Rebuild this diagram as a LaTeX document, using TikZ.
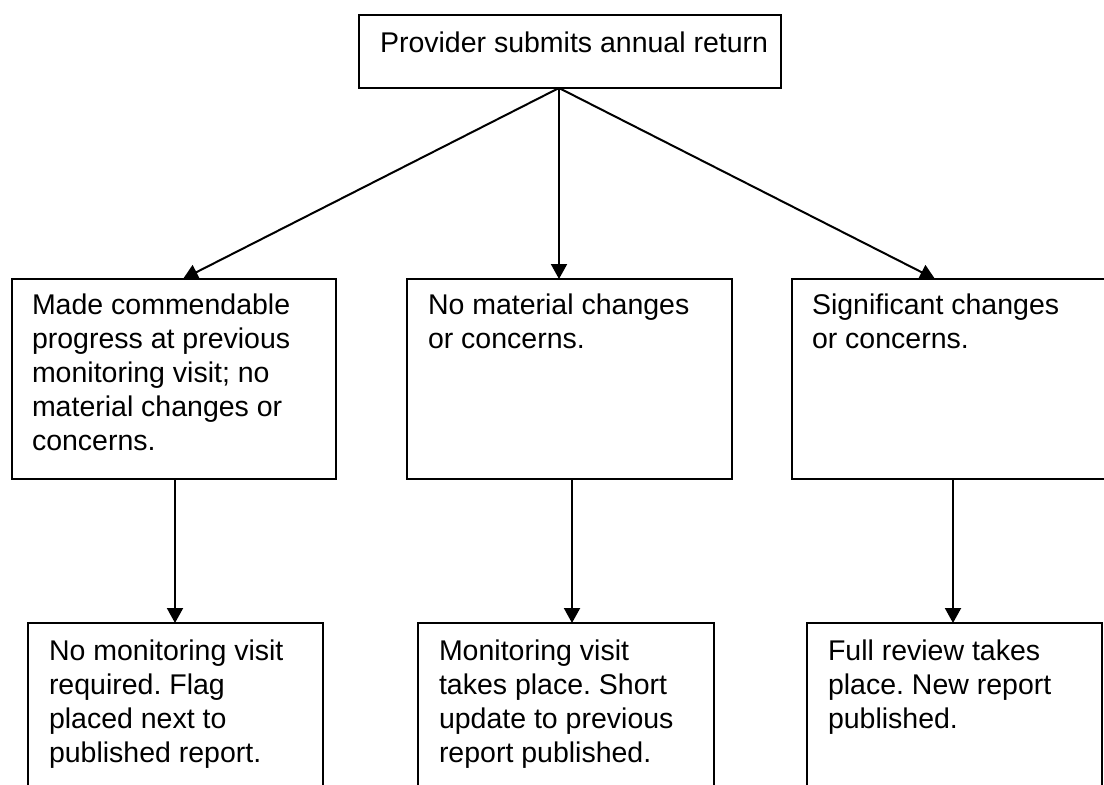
\documentclass[tikz,border=0pt]{standalone}
\usepackage{fontspec}
\setmainfont{Liberation Sans}
\usetikzlibrary{arrows.meta,calc}
\frenchspacing
\begin{document}
\begin{tikzpicture}[x=1pt,y=-1pt,
  box/.style={draw=black,line width=2pt,fill=none,inner sep=0pt,outer sep=0pt,anchor=north west},
  txt/.style={inner sep=0pt,outer sep=0pt,anchor=north west,align=left,font=\fontsize{28.5pt}{34pt}\selectfont},
  arr/.style={line width=2pt,-{Triangle[length=15pt,width=16pt]}}]
\clip (0,0) rectangle (1104,785);
\fill[white] (0,0) rectangle (1104,785);
% top
\node[box,minimum width=422pt,minimum height=73pt] (top) at (359,15) {};
\node[txt] (ttop) at (380,32) {Provider submits annual return};
% middle row
\node[box,minimum width=324pt,minimum height=200pt] (l) at (12,279) {};
\node[txt] (tl) at (32,294) {Made commendable\\progress at previous\\monitoring visit; no\\material changes or\\concerns.};
\node[box,minimum width=325pt,minimum height=200pt] (m) at (407,279) {};
\node[txt] (tm) at (428,294) {No material changes\\or concerns.};
\node[box,minimum width=330pt,minimum height=200pt] (r) at (792,279) {};
\node[txt] (tr) at (812,294) {Significant changes\\or concerns.};
% bottom row
\node[box,minimum width=295pt,minimum height=200pt] (bl) at (28,623) {};
\node[txt] (tbl) at (49,640) {No monitoring visit\\required. Flag\\placed next to\\published report.};
\node[box,minimum width=296pt,minimum height=200pt] (bm) at (418,623) {};
\node[txt] (tbm) at (439,640) {Monitoring visit\\takes place. Short\\update to previous\\report published.};
\node[box,minimum width=295pt,minimum height=200pt] (br) at (807,623) {};
\node[txt] (tbr) at (828,640) {Full review takes\\place. New report\\published.};
% connectors
\coordinate (o) at ($(top.south west)+(200,0)$);
\draw[arr] (o) -- ($(l.north west)+(171,0)$);
\draw[arr] (o) -- ($(m.north west)+(152,0)$);
\draw[arr] (o) -- ($(r.north west)+(143,0)$);
\draw[arr] ($(l.south west)+(163,0)$) -- ($(bl.north west)+(147,0)$);
\draw[arr] ($(m.south west)+(165,0)$) -- ($(bm.north west)+(154,0)$);
\draw[arr] ($(r.south west)+(161,0)$) -- ($(br.north west)+(146,0)$);
\end{tikzpicture}
\end{document}
